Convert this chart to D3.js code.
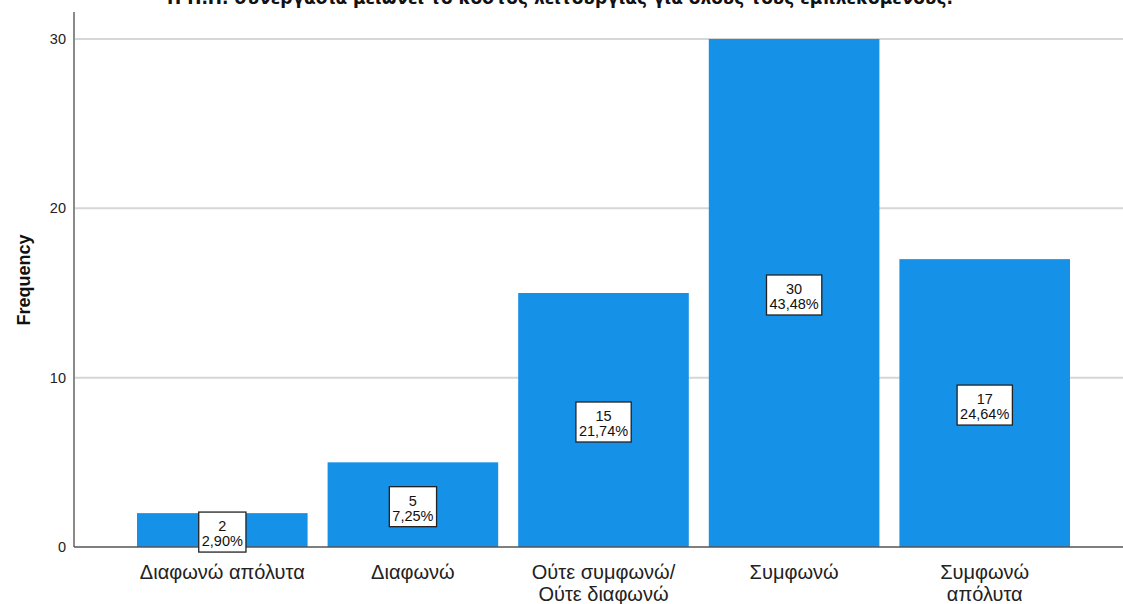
<!DOCTYPE html>
<html>
<head>
<meta charset="utf-8">
<script src="https://cdn.jsdelivr.net/npm/d3@7"></script>
<style>
  body { margin: 0; background: #fff; }
  svg { display: block; font-family: "Liberation Sans", Arial, sans-serif; }
</style>
</head>
<body>
<svg id="chart" width="1123" height="604"></svg>
<script>
// Response categories (multi-line labels split on "\n")
const categories = [
  "Διαφωνώ απόλυτα",
  "Διαφωνώ",
  "Ούτε συμφωνώ/\nΟύτε διαφωνώ",
  "Συμφωνώ",
  "Συμφωνώ\nαπόλυτα"
];
// Frequency of each response
const frequencies = [2, 5, 15, 30, 17];
// Y axis ticks
const yTicks = [0, 10, 20, 30];
const title = "Η Π.Π. συνεργασία μειώνει το κόστος λειτουργίας για όλους τους εμπλεκόμενους.";

const svg = d3.select("#chart");
const total = d3.sum(frequencies);
const pct = v => (v / total * 100).toFixed(2).replace(".", ",") + "%";

const x = d3.scaleBand()
  .domain(categories)
  .range([127, 1080])
  .paddingInner(0.105)
  .paddingOuter(0.0525);

const y = d3.scaleLinear()
  .domain([0, 30])
  .range([547, 39]);

// Horizontal gridlines
svg.append("g")
  .selectAll("line")
  .data(yTicks.filter(t => t > 0))
  .join("line")
  .attr("x1", 75).attr("x2", 1123)
  .attr("y1", d => y(d)).attr("y2", d => y(d))
  .attr("stroke", "#d6d6d6")
  .attr("stroke-width", 2);

// Bars
svg.append("g")
  .selectAll("rect")
  .data(frequencies)
  .join("rect")
  .attr("x", (d, i) => x(categories[i]))
  .attr("width", x.bandwidth())
  .attr("y", d => y(d))
  .attr("height", d => y(0) - y(d))
  .attr("fill", "#1591e8");

// Y axis
const yAxis = svg.append("g")
  .attr("transform", "translate(74,0)")
  .call(d3.axisLeft(y).tickValues(yTicks).tickSize(0).tickPadding(8));
yAxis.select(".domain").attr("stroke", "#8a8a8a").attr("stroke-width", 2)
  .attr("d", `M0,${y(0)}V12`);
yAxis.selectAll("text").attr("font-size", 14.5).attr("fill", "#222")
  .attr("font-family", "Liberation Sans, Arial, sans-serif");

// X axis baseline
svg.append("line")
  .attr("x1", 74).attr("x2", 1123)
  .attr("y1", y(0)).attr("y2", y(0))
  .attr("stroke", "#555").attr("stroke-width", 1.5);

// Category labels
const xAxis = svg.append("g")
  .attr("transform", `translate(0,${y(0)})`)
  .call(d3.axisBottom(x).tickSize(0).tickFormat(""));
xAxis.select(".domain").remove();
xAxis.selectAll(".tick").each(function (d) {
  const t = d3.select(this).append("text")
    .attr("text-anchor", "middle")
    .attr("font-size", 20)
    .attr("fill", "#222")
    .attr("font-family", "Liberation Sans, Arial, sans-serif");
  d.split("\n").forEach((line, j) => {
    t.append("tspan").attr("x", 0).attr("y", 32 + j * 22).text(line);
  });
});

// Value labels: count and percentage in a framed box
const labels = svg.append("g")
  .selectAll("g")
  .data(frequencies)
  .join("g")
  .attr("transform", (d, i) =>
    `translate(${x(categories[i]) + x.bandwidth() / 2},${(y(d) + y(0)) / 2})`);

labels.each(function (d) {
  const g = d3.select(this);
  const rect = g.append("rect")
    .attr("fill", "#fff")
    .attr("stroke", "#222")
    .attr("stroke-width", 1.3);
  const txt = g.append("text")
    .attr("text-anchor", "middle")
    .attr("font-size", 14.5)
    .attr("fill", "#111");
  txt.append("tspan").attr("x", 0).attr("y", 1).text(d);
  txt.append("tspan").attr("x", 0).attr("y", 16).text(pct(d));
  const bb = txt.node().getBBox();
  rect.attr("x", bb.x - 3).attr("y", -18)
    .attr("width", bb.width + 6).attr("height", 40);
});

// Y axis title
svg.append("text")
  .attr("transform", "translate(30,280) rotate(-90)")
  .attr("text-anchor", "middle")
  .attr("font-size", 18)
  .attr("font-weight", "bold")
  .attr("fill", "#111")
  .text("Frequency");

// Chart title (partly above the top edge)
svg.append("text")
  .attr("x", 560)
  .attr("y", 4)
  .attr("text-anchor", "middle")
  .attr("font-size", 17)
  .attr("font-weight", "bold")
  .attr("fill", "#111")
  .attr("font-family", "DejaVu Sans, sans-serif")
  .text(title);
</script>
</body>
</html>
